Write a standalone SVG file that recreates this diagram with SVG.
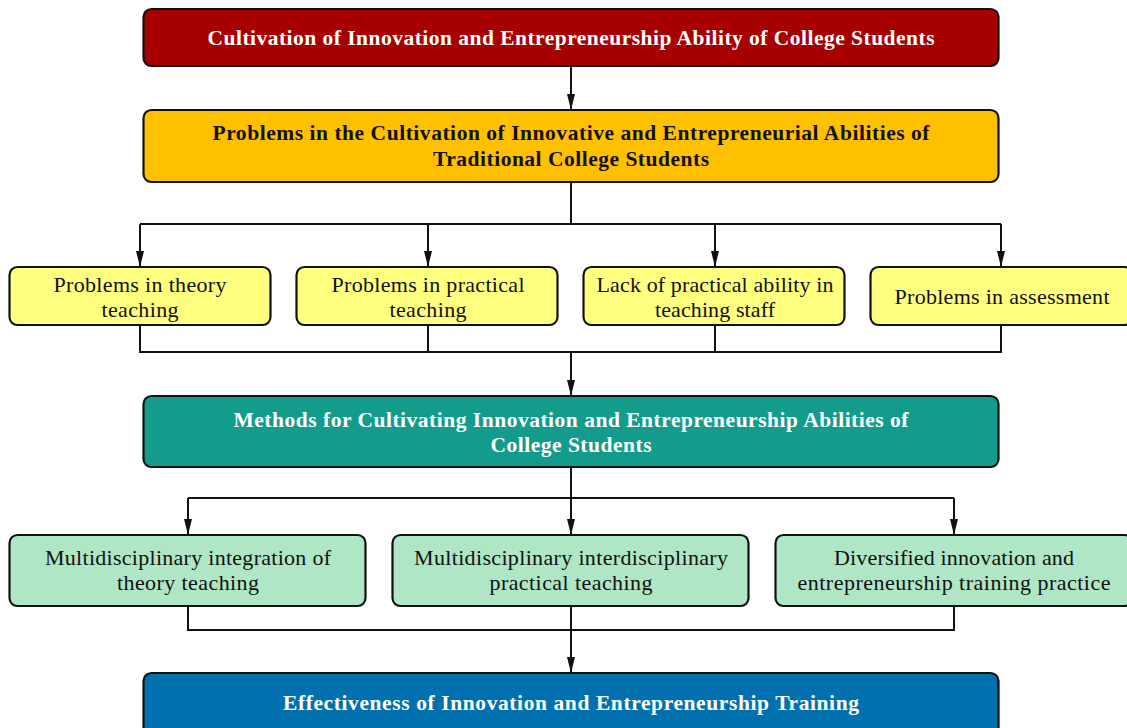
<svg xmlns="http://www.w3.org/2000/svg" width="1127" height="728" viewBox="0 0 1127 728">
  <style>
    .box { stroke: #111; stroke-width: 2.2; }
    .red { fill: #A80000; }
    .orange { fill: #FFC000; }
    .yellow { fill: #FFFF80; }
    .teal { fill: #139B8C; }
    .green { fill: #AFE6C6; }
    .blue { fill: #0071AE; }
    text { font-family: "Liberation Serif", "DejaVu Serif", serif; font-size: 22px; text-anchor: middle; fill: #111; }
    .bold { font-weight: bold; font-size: 21.5px; }
    .light { fill: #fff; }
    .wire { fill: none; stroke: #111; stroke-width: 2; }
  </style>
  <defs>
    <marker id="head" markerWidth="16" markerHeight="8" refX="15" refY="4" orient="auto" markerUnits="userSpaceOnUse" viewBox="0 0 16 8">
      <path d="M0,0 L16,4 L0,8 Z" fill="#111"/>
    </marker>
  </defs>

  <rect width="1127" height="728" fill="#fff"/>

  <!-- connectors -->
  <g id="connectors">
    <path class="wire" d="M571,67 V109" marker-end="url(#head)"/>
    <path class="wire" d="M571,182 V224"/>
    <path class="wire" d="M140,224 H1001"/>
    <path class="wire" d="M140,224 V266" marker-end="url(#head)"/>
    <path class="wire" d="M428,224 V266" marker-end="url(#head)"/>
    <path class="wire" d="M715,224 V266" marker-end="url(#head)"/>
    <path class="wire" d="M1001,224 V266" marker-end="url(#head)"/>
    <path class="wire" d="M140,325 V352 H1001 V325"/>
    <path class="wire" d="M428,325 V352"/>
    <path class="wire" d="M715,325 V352"/>
    <path class="wire" d="M571,352 V395" marker-end="url(#head)"/>
    <path class="wire" d="M571,467 V498"/>
    <path class="wire" d="M188,498 H954"/>
    <path class="wire" d="M188,498 V534" marker-end="url(#head)"/>
    <path class="wire" d="M571,498 V534" marker-end="url(#head)"/>
    <path class="wire" d="M954,498 V534" marker-end="url(#head)"/>
    <path class="wire" d="M188,606 V630 H954 V606"/>
    <path class="wire" d="M571,606 V672" marker-end="url(#head)"/>
  </g>

  <g id="goal">
    <rect class="box red" x="143.5" y="9" width="855" height="57" rx="8"/>
    <text class="bold light" x="571" y="45" textLength="727">Cultivation of Innovation and Entrepreneurship Ability of College Students</text>
  </g>

  <g id="problems">
    <rect class="box orange" x="143.5" y="110" width="855" height="72" rx="8"/>
    <text class="bold" x="571" y="140" textLength="717">Problems in the Cultivation of Innovative and Entrepreneurial Abilities of</text>
    <text class="bold" x="571" y="166" textLength="276">Traditional College Students</text>
  </g>

  <g id="theory-problems">
    <rect class="box yellow" x="9.5" y="267" width="261" height="58" rx="8"/>
    <text x="140" y="292" textLength="173">Problems in theory</text>
    <text x="140" y="317" textLength="77">teaching</text>
  </g>

  <g id="practice-problems">
    <rect class="box yellow" x="296.5" y="267" width="261" height="58" rx="8"/>
    <text x="428" y="292" textLength="193">Problems in practical</text>
    <text x="428" y="317" textLength="77">teaching</text>
  </g>

  <g id="staff-problems">
    <rect class="box yellow" x="583.5" y="267" width="261" height="58" rx="8"/>
    <text x="715" y="292" textLength="237">Lack of practical ability in</text>
    <text x="715" y="317" textLength="120">teaching staff</text>
  </g>

  <g id="assessment-problems">
    <rect class="box yellow" x="870.5" y="267" width="262" height="58" rx="8"/>
    <text x="1002" y="304" textLength="215">Problems in assessment</text>
  </g>

  <g id="methods">
    <rect class="box teal" x="143.5" y="396" width="855" height="71" rx="8"/>
    <text class="bold light" x="571" y="427" textLength="675">Methods for Cultivating Innovation and Entrepreneurship Abilities of</text>
    <text class="bold light" x="571" y="452" textLength="161">College Students</text>
  </g>

  <g id="theory-integration">
    <rect class="box green" x="9.5" y="535" width="356" height="71" rx="8"/>
    <text x="188" y="565" textLength="286">Multidisciplinary integration of</text>
    <text x="188" y="590" textLength="142">theory teaching</text>
  </g>

  <g id="practical-teaching">
    <rect class="box green" x="392.5" y="535" width="356" height="71" rx="8"/>
    <text x="571" y="565" textLength="314">Multidisciplinary interdisciplinary</text>
    <text x="571" y="590" textLength="163">practical teaching</text>
  </g>

  <g id="training-practice">
    <rect class="box green" x="775.5" y="535" width="357" height="71" rx="8"/>
    <text x="954" y="565" textLength="240">Diversified innovation and</text>
    <text x="954" y="590" textLength="313">entrepreneurship training practice</text>
  </g>

  <g id="effectiveness">
    <rect class="box blue" x="143.5" y="673" width="855" height="70" rx="8"/>
    <text class="bold light" x="571" y="710" textLength="576">Effectiveness of Innovation and Entrepreneurship Training</text>
  </g>
</svg>
